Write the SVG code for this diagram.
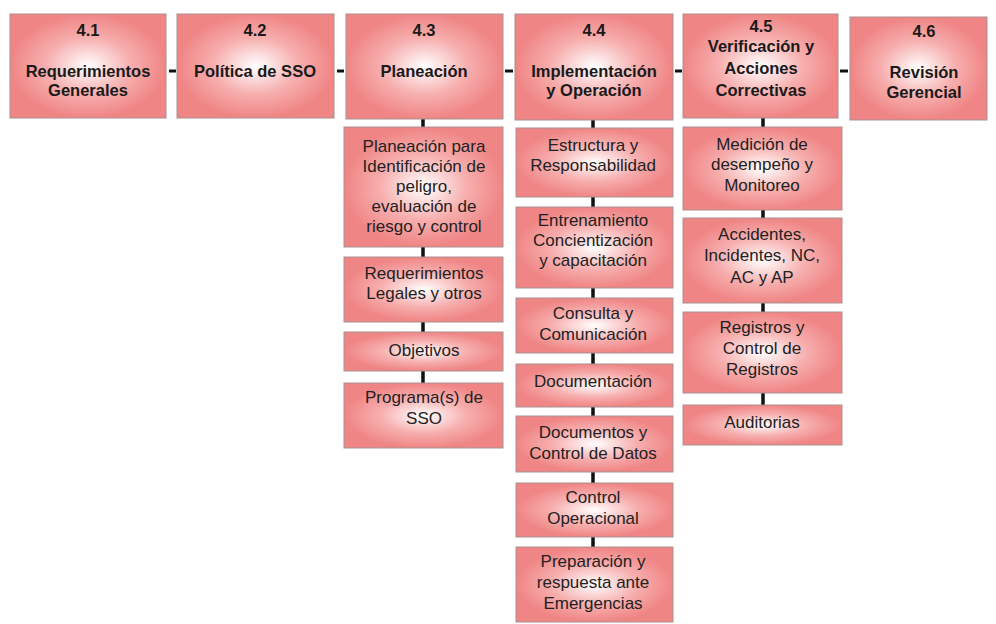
<svg xmlns="http://www.w3.org/2000/svg" width="996" height="624" viewBox="0 0 996 624">
<defs>
<radialGradient id="g" cx="0.5" cy="0.5" r="0.5">
<stop offset="0" stop-color="#ffffff"/>
<stop offset="0.15" stop-color="#fde9e9"/>
<stop offset="0.55" stop-color="#f7aeae"/>
<stop offset="1" stop-color="#f08585"/>
</radialGradient>
<style>
.box{fill:url(#g);stroke:#a89090;stroke-width:1}
.h{font-family:"Liberation Sans",Arial,sans-serif;font-size:16.5px;font-weight:bold;fill:#1a1a1a;text-anchor:middle}
.s{font-family:"Liberation Sans",Arial,sans-serif;font-size:17px;fill:#222;text-anchor:middle}
.c{stroke:#111;fill:none}
</style>
</defs>
<rect width="996" height="624" fill="#fff"/>
<g id="connectors">
<g class="c" stroke-width="3">
<line x1="169" y1="71" x2="176" y2="71"/>
<line x1="337" y1="71" x2="344" y2="71"/>
<line x1="505" y1="71" x2="513" y2="71"/>
<line x1="675" y1="71" x2="682" y2="71"/>
<line x1="840" y1="71" x2="848" y2="71"/>
</g>
<g class="c" stroke-width="3.5">
<line x1="423" y1="119" x2="423" y2="127"/>
<line x1="423" y1="247" x2="423" y2="257"/>
<line x1="423" y1="322" x2="423" y2="332"/>
<line x1="423" y1="371" x2="423" y2="383"/>
<line x1="593" y1="120" x2="593" y2="128"/>
<line x1="593" y1="197" x2="593" y2="207"/>
<line x1="593" y1="288" x2="593" y2="298"/>
<line x1="593" y1="353" x2="593" y2="364"/>
<line x1="593" y1="407" x2="593" y2="416"/>
<line x1="593" y1="472" x2="593" y2="483"/>
<line x1="593" y1="537" x2="593" y2="547"/>
<line x1="763" y1="118" x2="763" y2="127"/>
<line x1="763" y1="210" x2="763" y2="218"/>
<line x1="763" y1="303" x2="763" y2="312"/>
<line x1="763" y1="393" x2="763" y2="405"/>
</g>
</g>
<g id="n41"><rect class="box" x="10" y="14" width="156" height="104"/>
<text class="h" x="88" y="36">4.1</text><text class="h" x="88" y="77">Requerimientos</text><text class="h" x="88" y="96">Generales</text></g>
<g id="n42"><rect class="box" x="177" y="14" width="157" height="104"/>
<text class="h" x="255" y="36">4.2</text><text class="h" x="255" y="77">Política de SSO</text></g>
<g id="n43"><rect class="box" x="346" y="14" width="157" height="105"/>
<text class="h" x="424" y="36">4.3</text><text class="h" x="424" y="77">Planeación</text></g>
<g id="n44"><rect class="box" x="515" y="14" width="158" height="106"/>
<text class="h" x="594" y="36">4.4</text><text class="h" x="594" y="77">Implementación</text><text class="h" x="594" y="96">y Operación</text></g>
<g id="n45"><rect class="box" x="683" y="14" width="155" height="104"/>
<text class="h" x="761" y="32">4.5</text><text class="h" x="761" y="52">Verificación y</text><text class="h" x="761" y="74">Acciones</text><text class="h" x="761" y="96">Correctivas</text></g>
<g id="n46"><rect class="box" x="850" y="17" width="137" height="103"/>
<text class="h" x="924" y="37">4.6</text><text class="h" x="924" y="78">Revisión</text><text class="h" x="924" y="98">Gerencial</text></g>

<g id="s31"><rect class="box" x="344" y="127" width="159" height="120"/>
<text class="s" x="424" y="152">Planeación para</text><text class="s" x="424" y="172">Identificación de</text><text class="s" x="424" y="192">peligro,</text><text class="s" x="424" y="212">evaluación de</text><text class="s" x="424" y="232">riesgo y control</text></g>
<g id="s32"><rect class="box" x="344" y="257" width="159" height="65"/>
<text class="s" x="424" y="279">Requerimientos</text><text class="s" x="424" y="299">Legales y otros</text></g>
<g id="s33"><rect class="box" x="344" y="332" width="159" height="39"/>
<text class="s" x="424" y="356">Objetivos</text></g>
<g id="s34"><rect class="box" x="344" y="383" width="159" height="65"/>
<text class="s" x="424" y="403">Programa(s) de</text><text class="s" x="424" y="424">SSO</text></g>

<g id="s41"><rect class="box" x="516" y="128" width="157" height="69"/>
<text class="s" x="593" y="151">Estructura y</text><text class="s" x="593" y="171">Responsabilidad</text></g>
<g id="s42"><rect class="box" x="516" y="207" width="157" height="81"/>
<text class="s" x="593" y="226">Entrenamiento</text><text class="s" x="593" y="246">Concientización</text><text class="s" x="593" y="266">y capacitación</text></g>
<g id="s43"><rect class="box" x="516" y="298" width="157" height="55"/>
<text class="s" x="593" y="319">Consulta y</text><text class="s" x="593" y="340">Comunicación</text></g>
<g id="s44"><rect class="box" x="516" y="364" width="157" height="43"/>
<text class="s" x="593" y="387">Documentación</text></g>
<g id="s45"><rect class="box" x="516" y="416" width="157" height="56"/>
<text class="s" x="593" y="438">Documentos y</text><text class="s" x="593" y="459">Control de Datos</text></g>
<g id="s46"><rect class="box" x="516" y="483" width="157" height="54"/>
<text class="s" x="593" y="503">Control</text><text class="s" x="593" y="524">Operacional</text></g>
<g id="s47"><rect class="box" x="516" y="547" width="157" height="75"/>
<text class="s" x="593" y="567">Preparación y</text><text class="s" x="593" y="588">respuesta ante</text><text class="s" x="593" y="609">Emergencias</text></g>

<g id="s51"><rect class="box" x="683" y="127" width="159" height="83"/>
<text class="s" x="762" y="150">Medición de</text><text class="s" x="762" y="170">desempeño y</text><text class="s" x="762" y="191">Monitoreo</text></g>
<g id="s52"><rect class="box" x="683" y="218" width="159" height="85"/>
<text class="s" x="762" y="240">Accidentes,</text><text class="s" x="762" y="261">Incidentes, NC,</text><text class="s" x="762" y="283">AC y AP</text></g>
<g id="s53"><rect class="box" x="683" y="312" width="159" height="81"/>
<text class="s" x="762" y="333">Registros y</text><text class="s" x="762" y="354">Control de</text><text class="s" x="762" y="375">Registros</text></g>
<g id="s54"><rect class="box" x="683" y="405" width="159" height="40"/>
<text class="s" x="762" y="428">Auditorias</text></g>
</svg>
